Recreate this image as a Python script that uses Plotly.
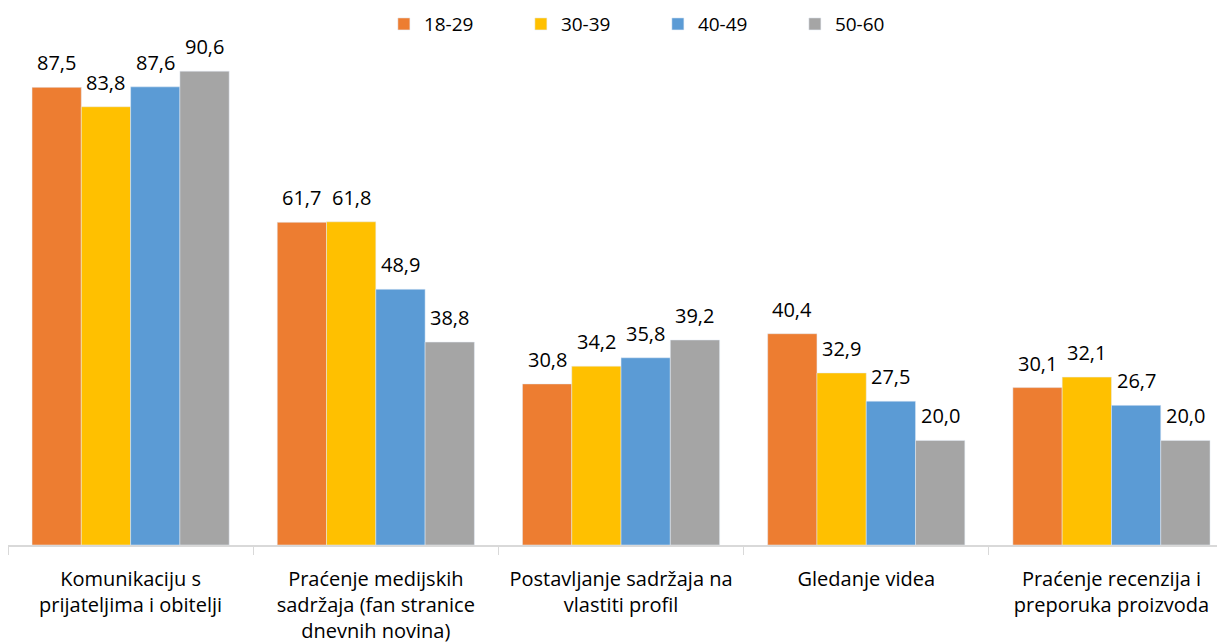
import plotly.graph_objects as go

categories = [
    "Komunikaciju s<br>prijateljima i obitelji",
    "Praćenje medijskih<br>sadržaja (fan stranice<br>dnevnih novina)",
    "Postavljanje sadržaja na<br>vlastiti profil",
    "Gledanje videa",
    "Praćenje recenzija i<br>preporuka proizvoda",
]
series_names = ["18-29", "30-39", "40-49", "50-60"]
v_18_29 = [87.5, 61.7, 30.8, 40.4, 30.1]
v_30_39 = [83.8, 61.8, 34.2, 32.9, 32.1]
v_40_49 = [87.6, 48.9, 35.8, 27.5, 26.7]
v_50_60 = [90.6, 38.8, 39.2, 20.0, 20.0]
colors = ["#ED7D31", "#FFC000", "#5B9BD5", "#A5A5A5"]

FONT = "Open Sans, Lato, sans-serif"

W, H = 1217, 635          # page body has 8px default margin
ML, MR, MT, MB = 0, 0, 14, 98
BARGAP = 0.196
X_RANGE = [-0.5, 4.463]   # last category runs past the right edge, as in the original

all_series = [v_18_29, v_30_39, v_40_49, v_50_60]

fig = go.Figure()
for name, vals, col in zip(series_names, all_series, colors):
    fig.add_trace(go.Bar(
        x=categories, y=vals, name=name, marker_color=col,
        cliponaxis=False,
    ))

# value labels, placed over each bar using the axis scale
plot_w = W - ML - MR
cat_px = plot_w / (X_RANGE[1] - X_RANGE[0])
bar_px = cat_px * (1 - BARGAP) / len(all_series)
for i, vals in enumerate(all_series):
    off = (i - (len(all_series) - 1) / 2) * bar_px
    for cat, v in zip(categories, vals):
        fig.add_annotation(
            x=cat, y=v, xref="x", yref="y",
            text=f"{v:.1f}".replace(".", ","),
            showarrow=False, xanchor="center", yanchor="bottom",
            xshift=off, yshift=9,
            font=dict(size=20, color="#000000", family=FONT),
        )

fig.update_layout(
    width=W, height=H,
    margin=dict(l=ML, r=MR, t=MT, b=MB, autoexpand=False),
    paper_bgcolor="white", plot_bgcolor="white",
    barmode="group", bargap=BARGAP, bargroupgap=0,
    font=dict(family=FONT, size=20, color="#000000"),
    legend=dict(orientation="h", x=0.534, xanchor="center", y=0.996, yanchor="middle",
                font=dict(size=19, family=FONT), entrywidth=92, itemwidth=30,
                traceorder="normal", bgcolor="rgba(0,0,0,0)"),
    showlegend=True,
)
fig.update_xaxes(range=X_RANGE, showline=True, linecolor="#D9D9D9", linewidth=1.5,
                 ticks="outside", tickson="boundaries", ticklen=8, tickcolor="#D9D9D9",
                 ticklabelstandoff=15,
                 tickfont=dict(size=20, family=FONT))
fig.update_yaxes(range=[0, 100], visible=False, showgrid=False)
fig.write_html("out.html")
